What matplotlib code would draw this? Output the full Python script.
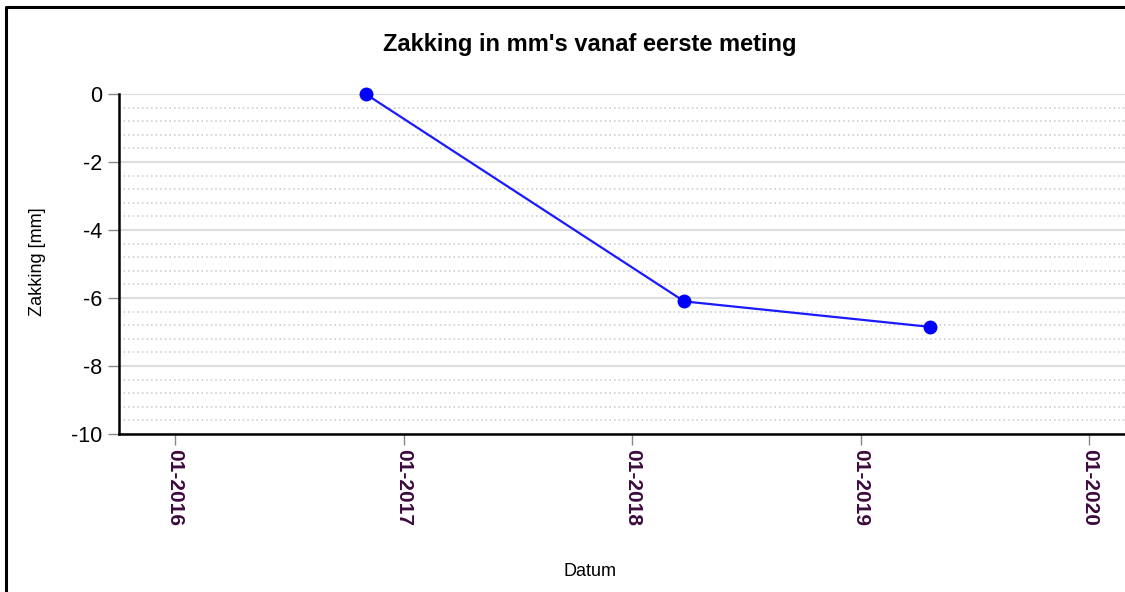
import matplotlib
matplotlib.use("Agg")
import matplotlib.pyplot as plt
from matplotlib.ticker import MultipleLocator
from datetime import datetime

# meetgegevens
datums = [datetime(2016, 11, 1), datetime(2018, 3, 25), datetime(2019, 4, 22)]
zakking = [0.0, -6.1, -6.85]

jaar_ticks = [datetime(j, 1, 1) for j in range(2016, 2021)]
jaar_labels = ["01-2016", "01-2017", "01-2018", "01-2019", "01-2020"]

plt.rcParams['font.family'] = ['Liberation Sans', 'DejaVu Sans']
plt.rcParams['axes.unicode_minus'] = False

fig = plt.figure(figsize=(11.25, 5.92), dpi=100)
W, H = 1125, 592
ax = fig.add_axes([119 / W, 1 - 434 / H, (1130 - 119) / W, (434 - 94) / H])

ax.plot(datums, zakking, color='#1a1aff', linewidth=1.6, marker='o',
        markersize=9, markerfacecolor='#0000ff', markeredgecolor='#0000ff',
        clip_on=False, zorder=3)

ax.set_ylim(-10, 0)
ax.set_xlim(datetime(2015, 10, 4), datetime(2020, 3, 6))
ax.yaxis.set_major_locator(MultipleLocator(2))
ax.yaxis.set_minor_locator(MultipleLocator(0.4))
ax.set_xticks(jaar_ticks)
ax.set_xticklabels(jaar_labels, rotation=270, color='#3d0a3d',
                   fontsize=15, fontweight='bold')

ax.grid(which='major', axis='y', color='#dddddd', linewidth=1.5)
ax.grid(which='minor', axis='y', color='#c8c8c8', linewidth=1.1, linestyle=(0, (1, 2)))
ax.set_axisbelow(True)

ax.tick_params(axis='y', which='major', length=8, width=1, color='#888888',
               labelsize=15.5, pad=4)
ax.tick_params(axis='y', which='minor', length=0)
ax.tick_params(axis='x', length=8, width=1, color='#888888', pad=3)

for s in ['top', 'right']:
    ax.spines[s].set_visible(False)
for s in ['left', 'bottom']:
    ax.spines[s].set_linewidth(1.8)
    ax.spines[s].set_color('black')

fig.text(590 / W, 1 - 44 / H, "Zakking in mm's vanaf eerste meting",
         ha='center', va='center', fontsize=17, fontweight='bold')
fig.text(37 / W, 1 - 262 / H, "Zakking [mm]", rotation=90,
         ha='center', va='center', fontsize=13)
fig.text(590 / W, 1 - 572 / H, "Datum", ha='center', va='center', fontsize=13)

# rand linksboven
fig.add_artist(plt.Line2D([6 / W, 6 / W, 1.0], [0.0, 1 - 7 / H, 1 - 7 / H],
                          transform=fig.transFigure, color='black', linewidth=2.2))

fig.savefig("out.png", dpi=100)
